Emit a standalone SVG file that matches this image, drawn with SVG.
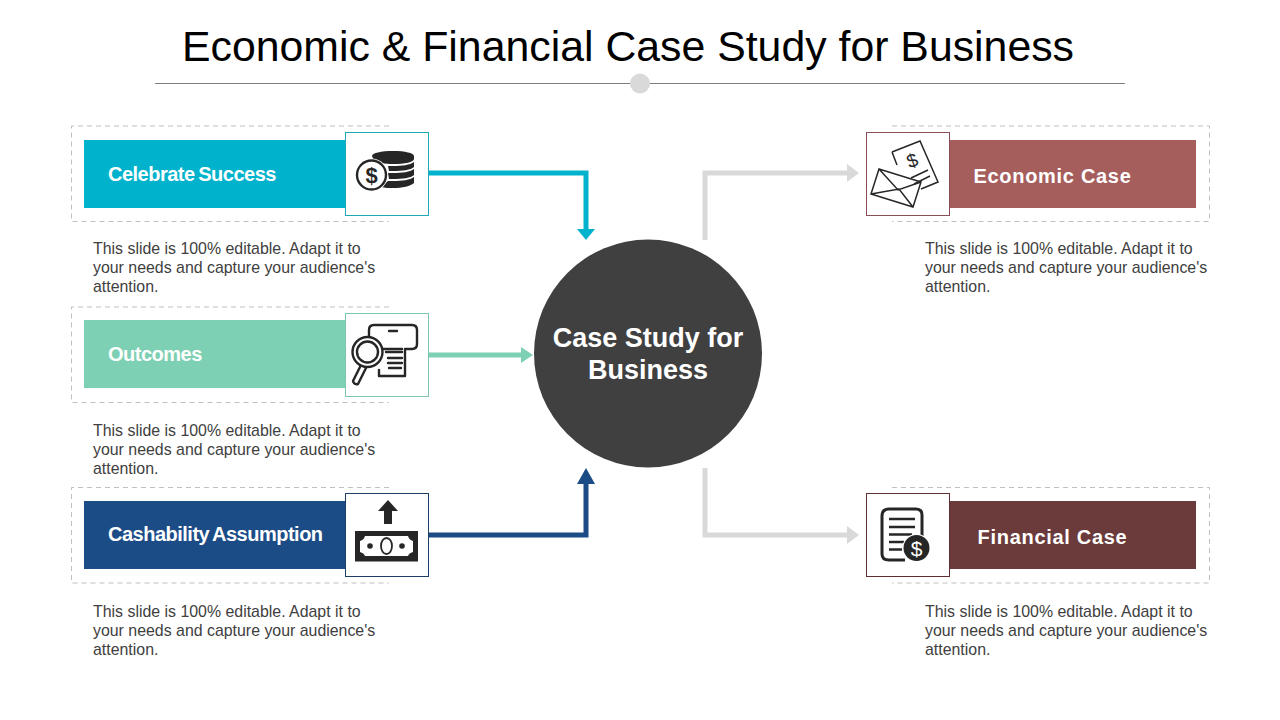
<svg xmlns="http://www.w3.org/2000/svg" width="1280" height="720" viewBox="0 0 1280 720">
<style>
text{font-family:"Liberation Sans",Arial,sans-serif}
.title{font-size:42.8px;fill:#000}
.lab{font-size:20px;font-weight:700;fill:#fff;letter-spacing:-.5px;word-spacing:-1.5px}
.labr{font-size:20px;font-weight:700;fill:#fff;letter-spacing:.7px}
.body{font-size:15.9px;fill:#404040}
.dash{fill:none;stroke:#bfbfbf;stroke-width:1;stroke-dasharray:5 4}
.ic{fill:none;stroke:#262626;stroke-width:2.4;stroke-linecap:round;stroke-linejoin:round}
.icf{fill:#262626}
.thin{fill:none;stroke:#262626;stroke-width:1.5;stroke-linejoin:miter}
.conn{fill:none;stroke-width:5}
</style>
<rect width="1280" height="720" fill="#fff"/>
<g id="header">
<text class="title" x="628" y="61" text-anchor="middle">Economic &amp; Financial Case Study for Business</text>
<line x1="155" y1="83.500" x2="1125" y2="83.500" stroke="#7f7f7f" stroke-width="1"/>
<circle cx="640" cy="83.500" r="10" fill="#d9d9d9"/>
</g>
<g id="connectors">
<path class="conn" stroke="#00b2cb" d="M429 173H586V230"/><path fill="#00b2cb" d="M577 229H595L586 240Z"/>
<path class="conn" stroke="#7dd0b3" d="M429 355H522"/><path fill="#7dd0b3" d="M521 347V363L533 355Z"/>
<path class="conn" stroke="#1c4c86" d="M429 535H586V480"/><path fill="#1c4c86" d="M577 484H595L586 468Z"/>
<path class="conn" stroke="#d9d9d9" stroke-width="5.500" d="M705 240V173H848"/><path fill="#d9d9d9" d="M847 164V182L859 173Z"/>
<path class="conn" stroke="#d9d9d9" stroke-width="5.500" d="M705 468V535H848"/><path fill="#d9d9d9" d="M847 526V544L859 535Z"/>
</g>
<g id="hub">
<circle cx="648" cy="353.500" r="114" fill="#404040"/>
<text x="648" y="347" text-anchor="middle" font-size="27" font-weight="700" fill="#fff">Case Study for</text>
<text x="648" y="379" text-anchor="middle" font-size="27" font-weight="700" fill="#fff">Business</text>
</g>
<g id="celebrate-success">
<path class="dash" d="M389 126H71.500V221.500H389"/>
<rect x="84" y="140" width="262" height="68" fill="#00b2cb"/>
<text class="lab" x="108" y="181">Celebrate Success</text>
<rect x="345.500" y="132.500" width="83" height="83" fill="#fff" stroke="#1fa9b8"/>
<path class="icf" d="M372 156c0-3 9-5 21-5s21 2 21 5v3c0 3-9 5-21 5c-8 0-15-1-19-3zM388 166c2 0 3 0 5 0c9 0 17-1 21-4v5c-3 3-12 4-21 4h-4zM388 173h5c9 0 17-1 21-4v6c-3 3-12 4-21 4h-4zM388 181h5c9 0 17-1 21-4v6c-3 3-12 5-21 5c-4 0-8 0-12-1z"/>
<circle cx="371.500" cy="175" r="16.500" fill="#fff"/>
<circle cx="371.500" cy="175" r="14.500" fill="none" stroke="#262626" stroke-width="2.400"/>
<text x="371.500" y="183" text-anchor="middle" font-size="22" font-weight="700" fill="#262626">$</text>
</g>
<g id="outcomes">
<path class="dash" d="M389 307H71.500V402.500H389"/>
<rect x="84" y="320" width="262" height="68" fill="#7dd0b3"/>
<text class="lab" x="108" y="361">Outcomes</text>
<rect x="345.500" y="313.500" width="83" height="83" fill="#fff" stroke="#7dc6ae"/>
<path class="ic" d="M369 338V330Q369 325 374 325H412Q417 325 417 330V344Q417 349 412 349H406M379 349H402M405 349V376H379V370"/>
<line class="ic" x1="389" y1="331" x2="397" y2="331"/>
<path class="ic" d="M386 352H402M388 358H402M388 363H402M389 368H401"/>
<circle cx="367.500" cy="352" r="15" fill="#fff" stroke="#262626" stroke-width="2.400"/>
<circle cx="367.500" cy="352" r="10.500" class="ic"/>
<path class="ic" d="M360 367L353 381Q354 385 358 384L366 368"/>
</g>
<g id="cashability-assumption">
<path class="dash" d="M389 487.500H71.500V583H389"/>
<rect x="84" y="501" width="262" height="68" fill="#1c4c86"/>
<text class="lab" x="108" y="541">Cashability Assumption</text>
<rect x="345.500" y="493.500" width="83" height="83" fill="#fff" stroke="#1c3f66"/>
<path class="icf" d="M388 500L398 511H392V524H384V511H378Z"/>
<path class="icf" fill-rule="evenodd" d="M355 531H418V561.500H355ZM365 536Q364 540 360 541V552Q364 553 365 556H408Q409 553 413 552V541Q409 540 408 536Z"/>
<circle cx="370" cy="546" r="2.800" class="icf"/><circle cx="402" cy="546" r="2.800" class="icf"/>
<ellipse cx="386.500" cy="546" rx="5.500" ry="8" fill="none" stroke="#262626" stroke-width="1.800"/>
</g>
<g id="economic-case">
<path class="dash" d="M892 126H1209.500V221.500H892"/>
<rect x="949" y="140" width="247" height="68" fill="#a65e5c"/>
<text class="labr" x="1052.500" y="183" text-anchor="middle">Economic Case</text>
<rect x="866.500" y="132.500" width="83" height="83" fill="#fff" stroke="#8a4f55"/>
<path class="thin" d="M892 152L920 141L938 182L921 189M897 165L892 152"/>
<path class="thin" d="M911 178L928 170M914 184L930 176"/>
<path class="thin" d="M879 169L921 182L913 207L871 194ZM879 169L898 190L921 182M871 194L899 189L913 207"/>
<text x="912" y="167" text-anchor="middle" font-size="19" fill="#262626" transform="rotate(-20 912 160)">$</text>
</g>
<g id="financial-case">
<path class="dash" d="M892 487.500H1209.500V583H892"/>
<rect x="949" y="501" width="247" height="68" fill="#6b3a3a"/>
<text class="labr" x="1052.500" y="544" text-anchor="middle">Financial Case</text>
<rect x="866.500" y="493.500" width="83" height="83" fill="#fff" stroke="#5e2e32"/>
<path d="M889 509H916Q922 509 922 515V540M905 560H889Q882 560 882 554V516Q882 509 889 509" fill="none" stroke="#262626" stroke-width="3"/>
<path d="M889 519H915M889 527H915M889 534.500H912M889 542H904M889 549.500H902" fill="none" stroke="#262626" stroke-width="2.500"/>
<circle cx="916.500" cy="548" r="14" fill="#fff"/>
<circle cx="916.500" cy="548" r="13" fill="#262626"/>
<text x="916.500" y="556" text-anchor="middle" font-size="21" fill="#fff">$</text>
</g>
<g id="text-blocks">
<text class="body" x="93" y="254">This slide is 100% editable. Adapt it to</text>
<text class="body" x="93" y="273">your needs and capture your audience's</text>
<text class="body" x="93" y="292">attention.</text>
<text class="body" x="93" y="436">This slide is 100% editable. Adapt it to</text>
<text class="body" x="93" y="455">your needs and capture your audience's</text>
<text class="body" x="93" y="474">attention.</text>
<text class="body" x="93" y="617">This slide is 100% editable. Adapt it to</text>
<text class="body" x="93" y="636">your needs and capture your audience's</text>
<text class="body" x="93" y="655">attention.</text>
<text class="body" x="925" y="254">This slide is 100% editable. Adapt it to</text>
<text class="body" x="925" y="273">your needs and capture your audience's</text>
<text class="body" x="925" y="292">attention.</text>
<text class="body" x="925" y="617">This slide is 100% editable. Adapt it to</text>
<text class="body" x="925" y="636">your needs and capture your audience's</text>
<text class="body" x="925" y="655">attention.</text>
</g>
</svg>
